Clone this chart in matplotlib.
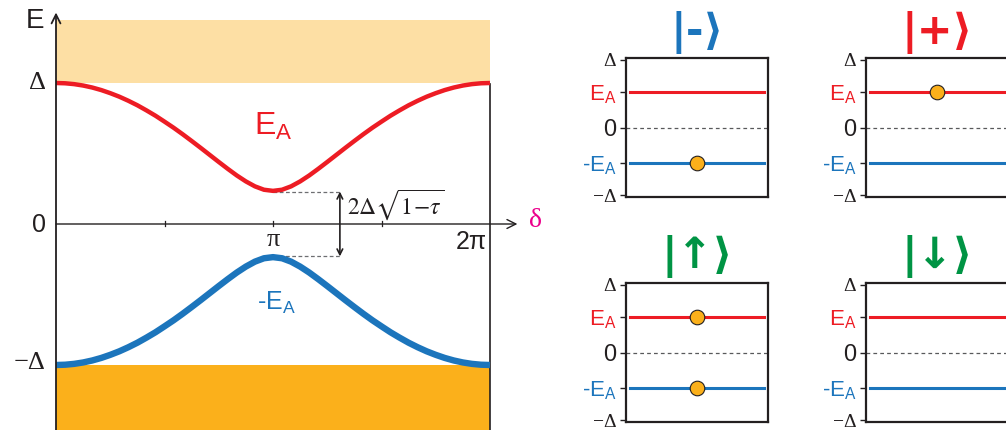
import matplotlib.pyplot as plt
import numpy as np

plt.rcParams['font.family'] = 'Liberation Sans'
plt.rcParams['mathtext.fontset'] = 'custom'
plt.rcParams['mathtext.rm'] = 'Liberation Sans'
plt.rcParams['mathtext.it'] = 'Liberation Sans'

# niveles de Andreev en unidades de Delta (de 0 a pi, simetrico)
mitad = [1.000, 0.998, 0.992, 0.982, 0.968, 0.950, 0.928, 0.903, 0.874, 0.842, 0.806,
         0.768, 0.726, 0.683, 0.637, 0.589, 0.540, 0.490, 0.440, 0.391, 0.344, 0.302,
         0.267, 0.243, 0.235]
e_a = mitad + mitad[-2::-1]
fase = np.linspace(0, 2 * np.pi, len(e_a))
gap_min = 0.23

# paneles chicos
estados = ['|-⟩', '|+⟩', '|↑⟩', '|↓⟩']
nivel_ea = 0.52
ocupados = [[-1], [1], [1, -1], []]   # en que nivel hay particula
ticks_val = [1, nivel_ea, 0, -nivel_ea, -1]
ticks_txt = ['Δ', r'$\mathrm{E}_\mathrm{A}$', '0', r'-$\mathrm{E}_\mathrm{A}$', '−Δ']

rojo = '#ED1C24'
azul = '#1C75BC'
verde = '#009444'
naranja = '#FBB01B'
naranja_claro = '#FDDFA4'
magenta = '#EC008C'
negro = '#231F20'
colores_estado = [azul, rojo, verde, verde]
colores_ticks = [negro, rojo, negro, azul, negro]

W, H = 1006, 430
fig = plt.figure(figsize=(W / 100, H / 100), dpi=100)


def fx(x):
    return x / W


def fy(y):
    return 1 - y / H


# ---- panel principal ----
ax = fig.add_axes([fx(56), 0, (490 - 56) / W, 1])
ax.set_xlim(0, 2 * np.pi)
ax.set_ylim(-206 / 141, 224 / 141)
ax.axis('off')

ax.fill_between([0, 2 * np.pi], 1.0, 204 / 141, color=naranja_claro, lw=0)
ax.fill_between([0, 2 * np.pi], -1.0, -206 / 141, color=naranja, lw=0)

ax.plot(fase, e_a, color=rojo, lw=3.2, solid_capstyle='butt', clip_on=False, zorder=5)
ax.plot(fase, -np.array(e_a), color=azul, lw=4.6, solid_capstyle='butt', clip_on=False, zorder=5)

# ejes con flechas
ax.annotate('', xy=(0, 1.50), xytext=(0, -206 / 141),
            arrowprops=dict(arrowstyle='->', lw=1.3, color=negro, mutation_scale=16,
                            shrinkA=0, shrinkB=0), annotation_clip=False, zorder=6)
ax.annotate('', xy=(6.68, 0), xytext=(0, 0),
            arrowprops=dict(arrowstyle='->', lw=1.0, color=negro, mutation_scale=16,
                            shrinkA=0, shrinkB=0), annotation_clip=False, zorder=6)
ax.plot([2 * np.pi, 2 * np.pi], [0.99, -206 / 141], color=negro, lw=1.2, clip_on=False, zorder=4)
for t in [np.pi / 2, np.pi, 3 * np.pi / 2]:
    ax.plot([t, t], [0.02, -0.015], color=negro, lw=0.9)

# anotacion de la brecha
x_fl = 4.11
ax.plot([np.pi, x_fl], [gap_min, gap_min], ls=(0, (3, 2)), color='#6D6E71', lw=0.9)
ax.plot([np.pi, x_fl], [-gap_min, -gap_min], ls=(0, (3, 2)), color='#6D6E71', lw=0.9)
ax.annotate('', xy=(x_fl, gap_min), xytext=(x_fl, -gap_min),
            arrowprops=dict(arrowstyle='<->', lw=1.2, color=negro, mutation_scale=10,
                            shrinkA=0, shrinkB=0))
ax.text(4.21, 0.135, r'$2\Delta\sqrt{1\!-\!\tau}$', math_fontfamily='stix',
        fontsize=17, ha='left', va='center', color=negro)

ax.text(np.pi, -0.11, 'π', family='Liberation Serif', fontsize=19, ha='center', va='center', color=negro)
ax.text(np.pi, 0.69, r'$\mathrm{E}_\mathrm{A}$', fontsize=23, ha='center', va='center', color=rojo)
ax.text(np.pi + 0.05, -0.56, r'-$\mathrm{E}_\mathrm{A}$', fontsize=18, ha='center', va='center', color=azul)

fig.text(fx(44), fy(21), 'E', fontsize=20, ha='right', va='center', color=negro)
fig.text(fx(46), fy(83), 'Δ', family='Liberation Serif', fontsize=19, ha='right', va='center', color=negro)
fig.text(fx(46), fy(225), '0', fontsize=18, ha='right', va='center', color=negro)
fig.text(fx(46), fy(363), '−Δ', family='Liberation Serif', fontsize=19, ha='right', va='center', color=negro)
fig.text(fx(471), fy(242), '2π', fontsize=18, ha='center', va='center', color=negro)
fig.text(fx(535), fy(221), 'δ', family='Liberation Serif', fontsize=20, ha='center', va='center', color=magenta)

# ---- paneles de estados ----
posiciones = [(626, 58), (866, 58), (626, 283), (866, 283)]
for i, (px, py) in enumerate(posiciones):
    a = fig.add_axes([fx(px), fy(py + 139), 142 / W, 139 / H])
    a.set_xlim(0, 1)
    a.set_ylim(-1.025, 1.025)
    a.plot([0.03, 0.97], [nivel_ea, nivel_ea], color=rojo, lw=2.2)
    a.plot([0.03, 0.97], [-nivel_ea, -nivel_ea], color=azul, lw=2.2)
    a.axhline(0, color='#58595B', lw=0.9, ls=(0, (3, 2.5)))
    for n in ocupados[i]:
        a.plot(0.5, n * nivel_ea, 'o', ms=10.5, mfc=naranja, mec=negro, mew=0.8, zorder=5)
    a.set_xticks([])
    a.set_yticks(ticks_val)
    a.set_yticklabels(ticks_txt)
    a.tick_params(axis='y', length=4, width=1, pad=3, colors=negro)
    for lab, c, txt in zip(a.get_yticklabels(), colores_ticks, ticks_txt):
        lab.set_color(c)
        if 'Δ' in txt:
            lab.set_fontfamily('Liberation Serif')
            lab.set_fontsize(14)
        elif txt == '0':
            lab.set_fontsize(17)
        else:
            lab.set_fontsize(16)
    for s in a.spines.values():
        s.set_linewidth(1.6)
        s.set_color(negro)
    fig.text(fx(px + 71), fy(py - 26), estados[i], fontsize=31, fontweight='bold',
             family='DejaVu Sans', ha='center', va='center', color=colores_estado[i])

plt.savefig('out.png', dpi=100)
